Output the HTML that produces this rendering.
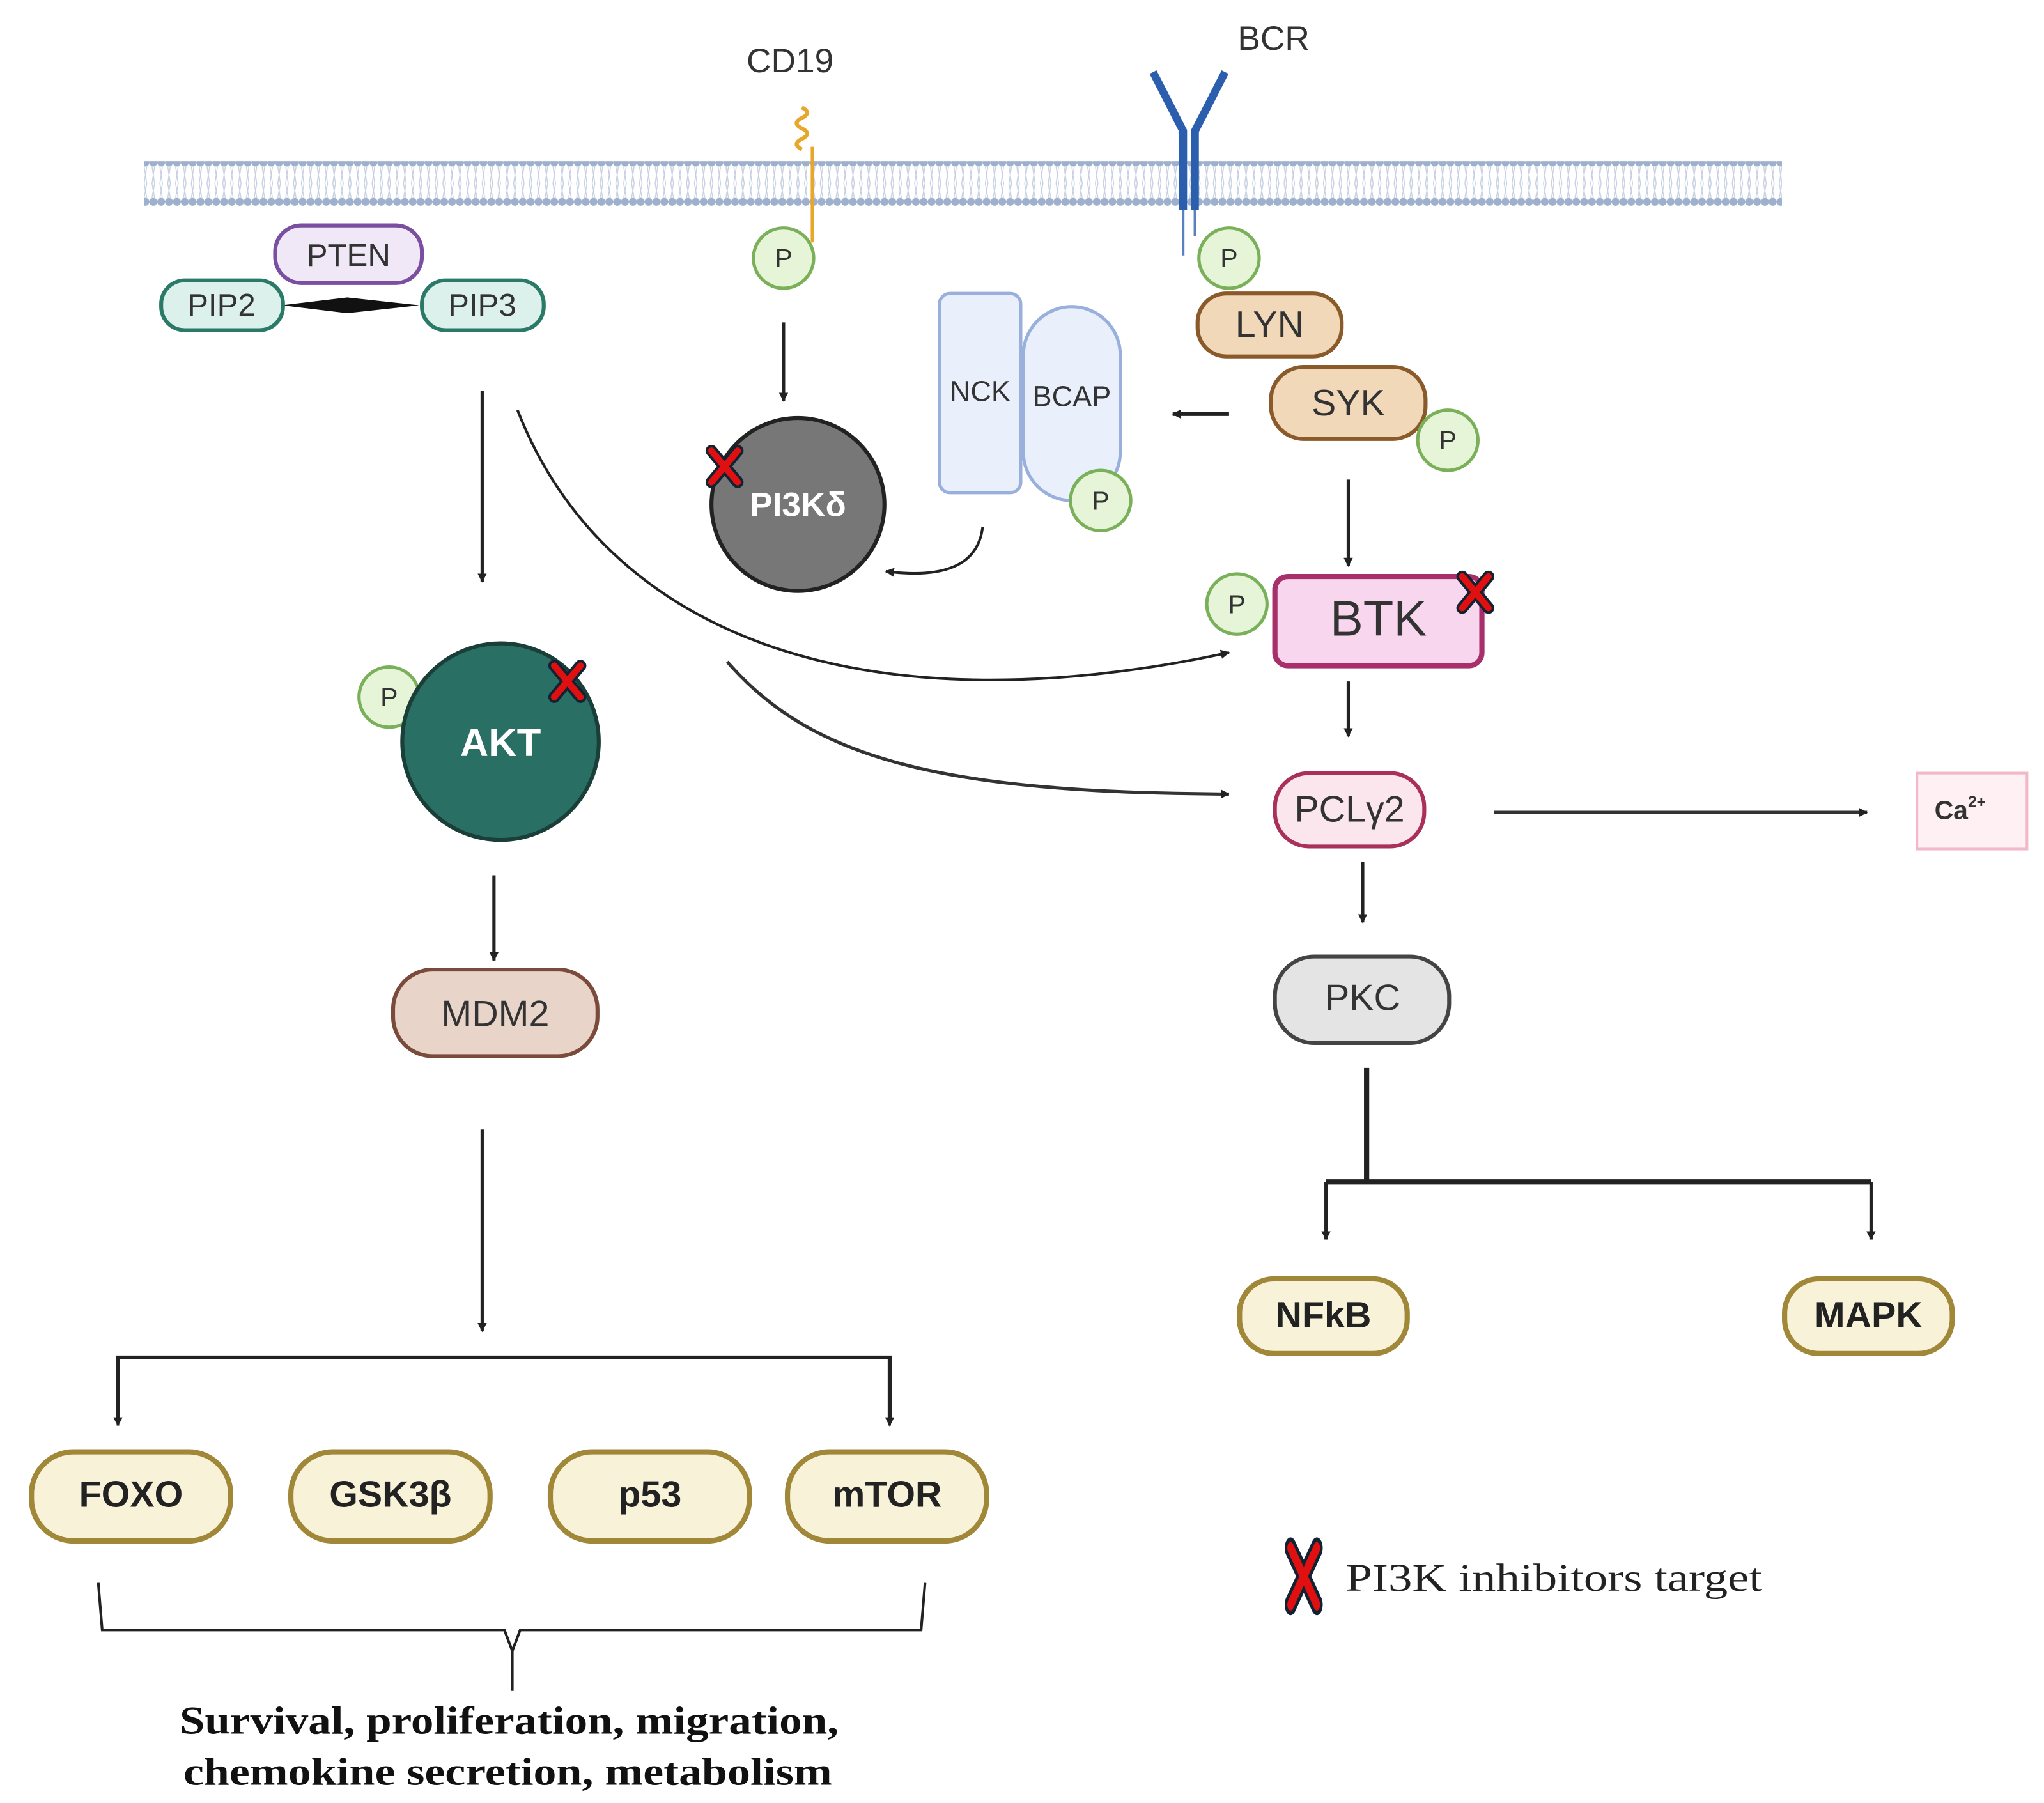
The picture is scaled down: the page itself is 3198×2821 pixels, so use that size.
<!DOCTYPE html>
<html><head><meta charset="utf-8"><style>
html,body{margin:0;padding:0;background:#fff}
svg{display:block}
text{font-family:"Liberation Sans",sans-serif}
</style></head><body>
<svg width="3198" height="2821" viewBox="0 0 1560 1376" preserveAspectRatio="none" xmlns="http://www.w3.org/2000/svg">
<defs>
<marker id="ah" viewBox="0 0 10 10" refX="9" refY="5" markerWidth="7" markerHeight="7" orient="auto" markerUnits="userSpaceOnUse"><path d="M0,0 L10,5 L0,10 z" fill="#222"/></marker>
<pattern id="mem" width="6" height="40" patternUnits="userSpaceOnUse"><circle cx="3" cy="4" r="3" fill="#9fb0cc"/><circle cx="3" cy="34" r="3" fill="#9fb0cc"/><path d="M2,7 L4,20 L2,31 M4,7 L2,20 L4,31" stroke="#c5d0e2" stroke-width="0.7" fill="none"/></pattern>
<g id="x"><path d="M-10,-12 L10,12 M10,-12 L-10,12" stroke="#123" stroke-width="9" stroke-linecap="round"/><path d="M-10,-12 L10,12 M10,-12 L-10,12" stroke="#e01010" stroke-width="5" stroke-linecap="round"/></g>
</defs>
<rect x="110" y="123" width="1250" height="38" fill="url(#mem)"/>
<text x="603" y="55" font-size="26" fill="#333" text-anchor="middle">CD19</text>
<path d="M612,82 q8,4 0,8 q-8,4 0,8 q8,4 0,8 q-8,4 0,8" stroke="#e8a62a" stroke-width="3" fill="none"/>
<line x1="620" y1="112" x2="620" y2="185" stroke="#e8a62a" stroke-width="2.5"/>
<text x="972" y="38" font-size="26" fill="#333" text-anchor="middle">BCR</text>
<path d="M880,55 L903,100 L903,160 M935,55 L912,100 L912,160" stroke="#2b5fae" stroke-width="6" fill="none"/>
<path d="M903,160 L903,195 M912,160 L912,180" stroke="#5a80c0" stroke-width="2" fill="none"/>
<rect x="210" y="172" width="112" height="44" rx="20" fill="#f1e8f7" stroke="#7a4fa0" stroke-width="3"/>
<text x="266" y="203" font-size="24" fill="#333" text-anchor="middle">PTEN</text>
<path d="M215,233 L265,227 L320,233 L265,239 z" fill="#111"/>
<rect x="123" y="214" width="93" height="38" rx="18" fill="#dcf1ec" stroke="#2b7a68" stroke-width="3"/>
<text x="169" y="241" font-size="24" fill="#333" text-anchor="middle">PIP2</text>
<rect x="322" y="214" width="93" height="38" rx="18" fill="#dcf1ec" stroke="#2b7a68" stroke-width="3"/>
<text x="368" y="241" font-size="24" fill="#333" text-anchor="middle">PIP3</text>
<rect x="914" y="224" width="110" height="48" rx="22" fill="#f0d8b8" stroke="#8a5a2a" stroke-width="3"/>
<text x="969" y="257" font-size="28" fill="#333" text-anchor="middle">LYN</text>
<rect x="970" y="280" width="118" height="55" rx="25" fill="#f0d8b8" stroke="#8a5a2a" stroke-width="3"/>
<text x="1029" y="317" font-size="28" fill="#333" text-anchor="middle">SYK</text>
<rect x="717" y="224" width="62" height="152" rx="8" fill="#eaf0fb" stroke="#9ab0dc" stroke-width="2.5"/>
<text x="748" y="306" font-size="22" fill="#333" text-anchor="middle">NCK</text>
<rect x="781" y="234" width="74" height="148" rx="37" fill="#eaf0fb" stroke="#9ab0dc" stroke-width="2.5"/>
<text x="818" y="310" font-size="22" fill="#333" text-anchor="middle">BCAP</text>
<g font-size="20" fill="#333" text-anchor="middle">
<circle cx="598" cy="197" r="23" fill="#e6f4d8" stroke="#7ab05a" stroke-width="2.5"/><text x="598" y="204">P</text>
<circle cx="938" cy="197" r="23" fill="#e6f4d8" stroke="#7ab05a" stroke-width="2.5"/><text x="938" y="204">P</text>
<circle cx="1105" cy="336" r="23" fill="#e6f4d8" stroke="#7ab05a" stroke-width="2.5"/><text x="1105" y="343">P</text>
<circle cx="840" cy="382" r="23" fill="#e6f4d8" stroke="#7ab05a" stroke-width="2.5"/><text x="840" y="389">P</text>
<circle cx="944" cy="461" r="23" fill="#e6f4d8" stroke="#7ab05a" stroke-width="2.5"/><text x="944" y="468">P</text>
<circle cx="297" cy="532" r="23" fill="#e6f4d8" stroke="#7ab05a" stroke-width="2.5"/><text x="297" y="539">P</text>
</g>
<line x1="938" y1="316" x2="895" y2="316" stroke="#222" stroke-width="3" marker-end="url(#ah)"/>
<circle cx="609" cy="385" r="66" fill="#777" stroke="#222" stroke-width="3"/>
<text x="609" y="394" font-size="26" font-weight="bold" fill="#fff" text-anchor="middle">PI3Kδ</text>
<use href="#x" x="553" y="356"/>
<line x1="598" y1="246" x2="598" y2="306" stroke="#222" stroke-width="2.5" marker-end="url(#ah)"/>
<path d="M750,402 Q745,445 676,436" stroke="#222" stroke-width="2" fill="none" marker-end="url(#ah)"/>
<rect x="973" y="440" width="158" height="68" rx="10" fill="#f8d6ee" stroke="#a8306a" stroke-width="4"/>
<text x="1052" y="485" font-size="38" fill="#333" text-anchor="middle">BTK</text>
<use href="#x" x="1126" y="452"/>
<line x1="1029" y1="366" x2="1029" y2="432" stroke="#222" stroke-width="2.5" marker-end="url(#ah)"/>
<line x1="368" y1="298" x2="368" y2="444" stroke="#222" stroke-width="2.5" marker-end="url(#ah)"/>
<path d="M395,313 C460,480 650,560 938,498" stroke="#222" stroke-width="2" fill="none" marker-end="url(#ah)"/>
<path d="M555,505 C620,580 720,605 938,606" stroke="#333" stroke-width="2.5" fill="none" marker-end="url(#ah)"/>
<circle cx="382" cy="566" r="75" fill="#2a6f64" stroke="#1a3e38" stroke-width="3"/>
<text x="382" y="577" font-size="30" font-weight="bold" fill="#fff" text-anchor="middle">AKT</text>
<use href="#x" x="433" y="520"/>
<line x1="377" y1="668" x2="377" y2="733" stroke="#222" stroke-width="2.5" marker-end="url(#ah)"/>
<rect x="300" y="740" width="156" height="66" rx="30" fill="#e8d4c8" stroke="#7a4a3a" stroke-width="3"/>
<text x="378" y="783" font-size="28" fill="#333" text-anchor="middle">MDM2</text>
<line x1="368" y1="862" x2="368" y2="1016" stroke="#222" stroke-width="2.5" marker-end="url(#ah)"/>
<path d="M90,1085 L90,1036 L679,1036 L679,1085" stroke="#222" stroke-width="3" fill="none"/>
<line x1="90" y1="1060" x2="90" y2="1088" stroke="#222" stroke-width="2" marker-end="url(#ah)"/>
<line x1="679" y1="1060" x2="679" y2="1088" stroke="#222" stroke-width="2" marker-end="url(#ah)"/>
<g font-size="28" font-weight="bold" fill="#222" text-anchor="middle">
<rect x="24" y="1108" width="152" height="68" rx="32" fill="#f7f2d8" stroke="#a08838" stroke-width="4"/><text x="100" y="1150">FOXO</text>
<rect x="222" y="1108" width="152" height="68" rx="32" fill="#f7f2d8" stroke="#a08838" stroke-width="4"/><text x="298" y="1150">GSK3β</text>
<rect x="420" y="1108" width="152" height="68" rx="32" fill="#f7f2d8" stroke="#a08838" stroke-width="4"/><text x="496" y="1150">p53</text>
<rect x="601" y="1108" width="152" height="68" rx="32" fill="#f7f2d8" stroke="#a08838" stroke-width="4"/><text x="677" y="1150">mTOR</text>
<rect x="946" y="976" width="128" height="57" rx="26" fill="#f7f2d8" stroke="#a08838" stroke-width="4"/><text x="1010" y="1013">NFkB</text>
<rect x="1362" y="976" width="128" height="57" rx="26" fill="#f7f2d8" stroke="#a08838" stroke-width="4"/><text x="1426" y="1013">MAPK</text>
</g>
<path d="M75,1208 L78,1244 L385,1244 L391,1260 L391,1290 M391,1260 L397,1244 L703,1244 L706,1208" stroke="#222" stroke-width="2" fill="none"/>
<g font-size="30" font-weight="bold" fill="#111">
<text x="137" y="1323" textLength="503" lengthAdjust="spacingAndGlyphs" style="font-family:'Liberation Serif',serif">Survival, proliferation, migration,</text>
<text x="140" y="1362" textLength="495" lengthAdjust="spacingAndGlyphs" style="font-family:'Liberation Serif',serif">chemokine secretion, metabolism</text>
</g>
<line x1="1029" y1="520" x2="1029" y2="562" stroke="#222" stroke-width="2.5" marker-end="url(#ah)"/>
<rect x="973" y="590" width="114" height="56" rx="26" fill="#fbe6ee" stroke="#a8305a" stroke-width="3"/>
<text x="1030" y="627" font-size="28" fill="#333" text-anchor="middle">PCLγ2</text>
<line x1="1140" y1="620" x2="1425" y2="620" stroke="#333" stroke-width="2.5" marker-end="url(#ah)"/>
<rect x="1463" y="590" width="84" height="58" fill="#fff0f4" stroke="#f0b8c8" stroke-width="2"/>
<text x="1496" y="625" font-size="20" fill="#333" text-anchor="middle" font-weight="bold">Ca<tspan font-size="12" dy="-9">2+</tspan></text>
<line x1="1040" y1="658" x2="1040" y2="704" stroke="#222" stroke-width="2.5" marker-end="url(#ah)"/>
<rect x="973" y="730" width="133" height="66" rx="30" fill="#e4e4e4" stroke="#444" stroke-width="3"/>
<text x="1040" y="771" font-size="28" fill="#333" text-anchor="middle">PKC</text>
<path d="M1043,815 L1043,902 M1012,902 L1428,902" stroke="#222" stroke-width="4" fill="none"/>
<line x1="1012" y1="902" x2="1012" y2="946" stroke="#222" stroke-width="2.5" marker-end="url(#ah)"/>
<line x1="1428" y1="902" x2="1428" y2="946" stroke="#222" stroke-width="2.5" marker-end="url(#ah)"/>
<g transform="translate(995,1203) scale(1,1.8)"><use href="#x"/></g>
<text x="1027" y="1214" font-size="30" fill="#222" textLength="318" lengthAdjust="spacingAndGlyphs" style="font-family:'Liberation Serif',serif">PI3K inhibitors target</text>
</svg>
</body></html>
